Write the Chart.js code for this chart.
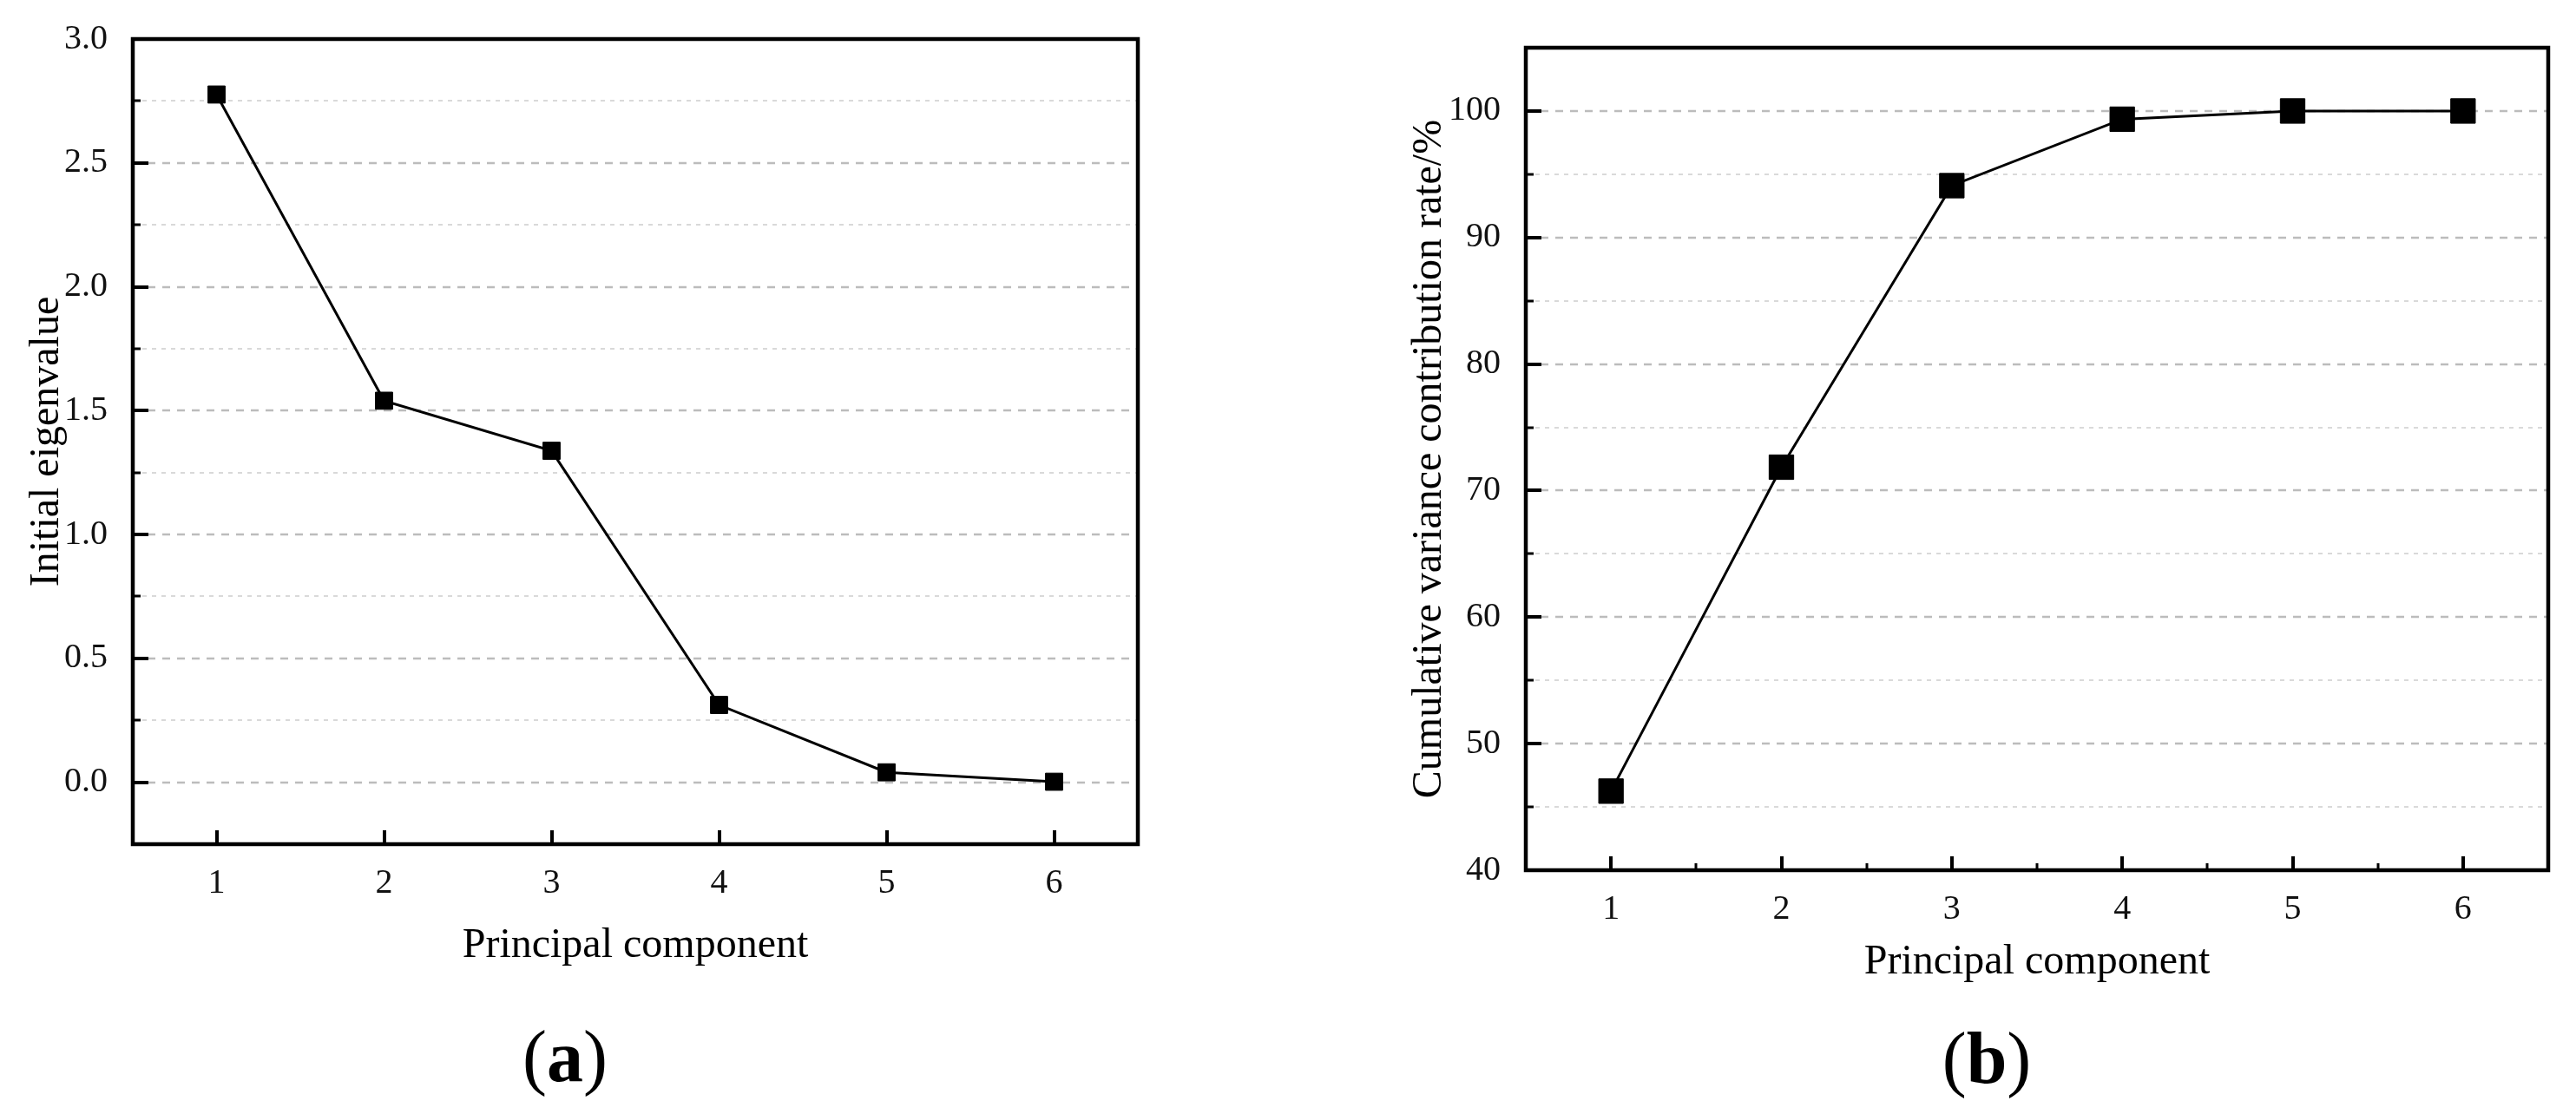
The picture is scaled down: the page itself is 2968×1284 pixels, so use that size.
<!DOCTYPE html>
<html>
<head>
<meta charset="utf-8">
<script src="https://cdn.jsdelivr.net/npm/chart.js@4.4.1/dist/chart.umd.min.js"></script>
<style>
  body { margin: 0; background: #fff; }
  #page { position: relative; width: 2968px; height: 1284px; overflow: hidden; background: #fff; }
  canvas { position: absolute; top: 0; }
  #left { left: 0; }
  #right { left: 1484px; }
  .cap { position: absolute; font-family: 'Liberation Serif', 'Times New Roman', serif; font-size: 84px; line-height: 1; color: #000; transform: translateX(-50%); white-space: nowrap; }
  .cap b { font-weight: bold; }
</style>
</head>
<body>
<div id="page">
  <canvas id="left" width="1484" height="1284"></canvas>
  <canvas id="right" width="1484" height="1284"></canvas>
  <div class="cap" style="left:651px; top:1176px;">(<b>a</b>)</div>
  <div class="cap" style="left:2289px; top:1178px;">(<b>b</b>)</div>
</div>
<script>
// data
const components = [1, 2, 3, 4, 5, 6];
const eigenvalues = [2.776, 1.540, 1.338, 0.312, 0.040, 0.002];
const cumulativeRate = [46.25, 71.85, 94.1, 99.35, 100, 100];

const serif = "'Liberation Serif', 'Times New Roman', serif";
Chart.defaults.font.family = serif;
Chart.defaults.color = '#111';

// grid lines (dashed major, light minor), inward ticks and the box frame
const frameAndGrid = {
  id: 'frameAndGrid',
  beforeDatasetsDraw(chart, args, opts) {
    const ctx = chart.ctx;
    const a = chart.chartArea;
    const x = chart.scales.x, y = chart.scales.y;
    const yt = y.ticks.map(t => t.value);
    const yMinor = [];
    for (let i = 0; i < yt.length - 1; i++) yMinor.push((yt[i] + yt[i + 1]) / 2);
    const xt = x.ticks.map(t => t.value);
    const xMinor = [];
    if (opts.xMinor) {
      for (let i = 0; i < xt.length - 1; i++) xMinor.push((xt[i] + xt[i + 1]) / 2);
    }

    ctx.save();
    // minor grid
    ctx.strokeStyle = '#d9d9d9';
    ctx.lineWidth = 2;
    ctx.setLineDash([5, 6]);
    yMinor.forEach(v => {
      const py = Math.round(y.getPixelForValue(v));
      ctx.beginPath(); ctx.moveTo(a.left, py); ctx.lineTo(a.right, py); ctx.stroke();
    });
    // major grid
    ctx.strokeStyle = '#bcbcbc';
    ctx.lineWidth = 2.5;
    ctx.setLineDash([9, 8]);
    yt.forEach(v => {
      const py = Math.round(y.getPixelForValue(v));
      ctx.beginPath(); ctx.moveTo(a.left, py); ctx.lineTo(a.right, py); ctx.stroke();
    });
    ctx.setLineDash([]);

    // ticks pointing into the plot
    ctx.strokeStyle = '#000';
    ctx.lineWidth = 4;
    yt.forEach(v => {
      const py = Math.round(y.getPixelForValue(v));
      ctx.beginPath(); ctx.moveTo(a.left, py); ctx.lineTo(a.left + 18, py); ctx.stroke();
    });
    xt.forEach(v => {
      const px = Math.round(x.getPixelForValue(v));
      ctx.beginPath(); ctx.moveTo(px, a.bottom); ctx.lineTo(px, a.bottom - 16); ctx.stroke();
    });
    ctx.lineWidth = 3;
    yMinor.forEach(v => {
      const py = Math.round(y.getPixelForValue(v));
      ctx.beginPath(); ctx.moveTo(a.left, py); ctx.lineTo(a.left + 9, py); ctx.stroke();
    });
    xMinor.forEach(v => {
      const px = Math.round(x.getPixelForValue(v));
      ctx.beginPath(); ctx.moveTo(px, a.bottom); ctx.lineTo(px, a.bottom - 8); ctx.stroke();
    });
    ctx.restore();
  },
  afterDatasetsDraw(chart) {
    const ctx = chart.ctx;
    const a = chart.chartArea;
    ctx.save();
    ctx.strokeStyle = '#000';
    ctx.lineWidth = 4.5;
    ctx.strokeRect(a.left, a.top, a.right - a.left, a.bottom - a.top);
    ctx.restore();
  }
};

function makeChart(id, values, cfg) {
  return new Chart(document.getElementById(id), {
    type: 'line',
    data: {
      datasets: [{
        data: components.map((c, i) => ({ x: c, y: values[i] })),
        borderColor: '#000',
        borderWidth: 3,
        tension: 0,
        pointStyle: 'rect',
        pointRadius: cfg.pointRadius,
        pointBackgroundColor: '#000',
        pointBorderColor: '#000',
        pointBorderWidth: 1
      }]
    },
    options: {
      responsive: false,
      animation: false,
      layout: { padding: cfg.padding },
      plugins: {
        legend: { display: false },
        tooltip: { enabled: false },
        frameAndGrid: { xMinor: cfg.xMinor }
      },
      scales: {
        x: {
          type: 'linear',
          min: 0.5,
          max: 6.5,
          grid: { display: false },
          border: { display: false },
          ticks: { padding: 13, font: { size: 40 }, color: '#111' },
          // one tick per principal component
          afterBuildTicks(scale) { scale.ticks = components.map(v => ({ value: v })); },
          title: { display: true, text: 'Principal component', font: { size: 48 }, color: '#000', padding: { bottom: cfg.xTitlePad } },
          afterFit(scale) { scale.height = cfg.xHeight; }
        },
        y: {
          min: cfg.yMin,
          max: cfg.yMax,
          grid: { display: false },
          border: { display: false },
          ticks: {
            stepSize: cfg.yStep,
            includeBounds: false,
            padding: 21,
            font: { size: 40 },
            color: '#111',
            callback: v => cfg.yFmt(v)
          },
          title: { display: true, text: cfg.yTitle, font: { size: 48 }, color: '#000', padding: { top: cfg.yTitlePad } },
          afterFit(scale) { scale.width = cfg.yWidth; }
        }
      }
    },
    plugins: [frameAndGrid]
  });
}

// (a) initial eigenvalues
const chartA = makeChart('left', eigenvalues, {
  padding: { left: 0, right: 173, top: 42, bottom: 0 },
  yWidth: 153,
  xHeight: 311,
  yMin: -0.25, yMax: 3.0, yStep: 0.5,
  yFmt: v => v.toFixed(1),
  yTitle: 'Initial eigenvalue',
  yTitlePad: 26,
  xTitlePad: 165,
  pointRadius: 14,
  xMinor: false
});

// (b) cumulative variance contribution
const chartB = makeChart('right', cumulativeRate, {
  padding: { left: 0, right: 32, top: 55, bottom: 0 },
  yWidth: 274,
  xHeight: 281,
  yMin: 40, yMax: 105, yStep: 10,
  yFmt: v => String(v),
  yTitle: 'Cumulative variance contribution rate/%',
  yTitlePad: 135,
  xTitlePad: 146,
  pointRadius: 20,
  xMinor: true
});
</script>
</body>
</html>
